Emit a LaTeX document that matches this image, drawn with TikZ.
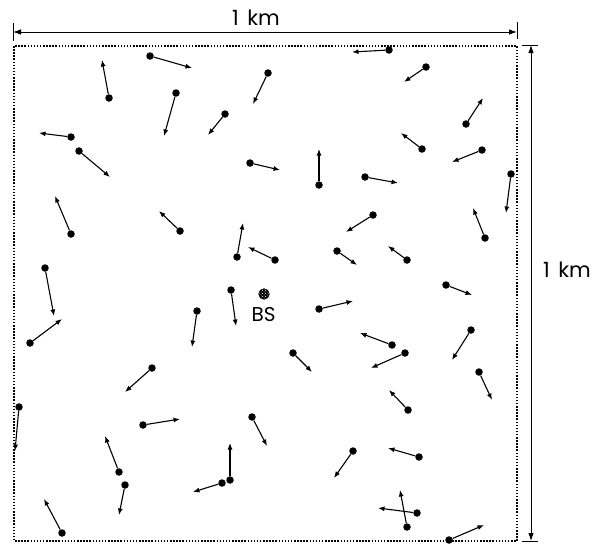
\documentclass[tikz,border=0pt]{standalone}
\usepackage{fontspec}
\setmainfont{Poppins}
\usetikzlibrary{arrows.meta,patterns}
\begin{document}
\begin{tikzpicture}[x=1pt,y=-1pt,line join=round]
\tikzstyle{mobile} = [circle,fill=black,inner sep=0pt,minimum size=7.5pt]
\tikzstyle{deplacement} = [line width=1.1pt,-{Latex[length=6.5pt,width=5pt]}]
\tikzstyle{cote} = [line width=0.9pt,{Latex[length=8pt,width=5.5pt]}-{Latex[length=8pt,width=5.5pt]}]
\tikzstyle{legende} = [font=\fontsize{21}{24}\selectfont,inner sep=0pt]
\tikzstyle{station} = [circle,draw,line width=0.7pt,inner sep=0pt,minimum size=10.5pt,preaction={fill=black},pattern=crosshatch dots,pattern color=white]
\useasboundingbox (0,0) rectangle (599,544);
%cadre de 1 km
\draw[line width=1.5pt,dash pattern=on 1.5pt off 1.6pt] (14,46) rectangle (517,541);
%cote horizontale
\coordinate (hg) at (13,32);
\coordinate (hd) at (517,32);
\draw[cote] (hg)--(hd);
\draw[line width=0.9pt] (hg) ++(0,-9)--++(0,18);
\draw[line width=0.9pt] (hd) ++(0,-10)--++(0,17);
\node[legende] (kmh) at (256,17.5) {1\hspace{0.4em}km};
%cote verticale
\coordinate (vh) at (531,45);
\coordinate (vb) at (531,541);
\draw[cote] (vh)--(vb);
\draw[line width=0.9pt] (vh) ++(-9,0)--++(16,0);
\draw[line width=0.9pt] (vb) ++(-9,0)--++(16,0);
\node[legende] (kmv) at (567,269.5) {1\hspace{0.4em}km};
%station de base
\node[station] (bs) at (264,294) {};
\node[font=\fontsize{20}{23}\selectfont,inner sep=0pt] (bslabel) at (263.5,314.5) {BS};
%utilisateurs mobiles et leurs vitesses
\foreach \i/\xa/\ya/\xb/\yb in {
  1/150/56/192/68, 2/109/98/102/60, 3/268/73/253/104, 4/176/93/164/136,
  5/225/114/208/135, 6/71/137/39/133, 7/79/151/110/177, 8/250/163/280/170,
  9/71/234/55/196, 10/180/231/159/211, 11/237/257/243/223, 12/275/260/248/247,
  13/45/268/54/316, 14/389/50/352/52, 15/426/67/404/82, 16/466/124/483/98,
  17/422/149/401/133, 18/482/150/452/162, 19/319/185/319/149, 20/365/177/398/183,
  21/511/174/506/213, 22/373/215/346/232, 23/485/238/473/208, 24/337/251/357/265,
  25/407/260/388/246, 26/30/343/62/319, 27/231/290/236/326, 28/197/311/192/347,
  29/293/353/312/372, 30/152/368/125/392, 31/19/407/15/451, 32/143/425/180/419,
  33/252/417/267/446, 34/119/472/105/436, 35/230/480/230/443, 36/222/483/193/492,
  37/125/485/119/515, 38/62/533/44/499, 39/446/285/472/295, 40/319/309/353/301,
  41/392/345/360/333, 42/405/353/371/368, 43/471/330/452/360, 44/479/372/492/400,
  45/408/410/389/390, 46/353/451/334/478, 47/419/457/388/448, 48/417/513/378/508,
  49/407/527/400/490, 50/449/540/484/525}{
  \node[mobile] (u\i) at (\xa,\ya) {};
  \coordinate (v\i) at (\xb,\yb);
  \draw[deplacement] (u\i)--(v\i);
}
\end{tikzpicture}
\end{document}
